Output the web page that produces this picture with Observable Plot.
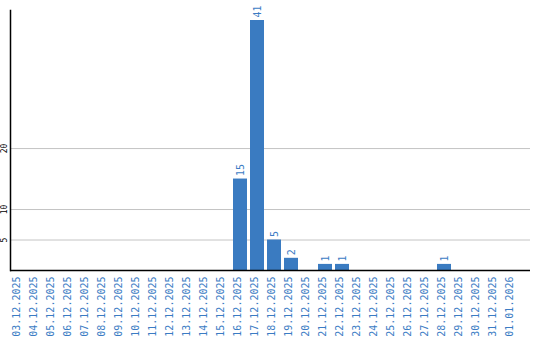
<!DOCTYPE html>
<html><head><meta charset="utf-8">
<script src="https://cdn.jsdelivr.net/npm/d3@7"></script>
<script src="https://cdn.jsdelivr.net/npm/@observablehq/plot@0.6"></script>
<style>body{margin:0;background:#fff}</style>
</head><body><div id="chart"></div>
<script>
const dates = ["03.12.2025","04.12.2025","05.12.2025","06.12.2025","07.12.2025","08.12.2025","09.12.2025","10.12.2025","11.12.2025","12.12.2025","13.12.2025","14.12.2025","15.12.2025","16.12.2025","17.12.2025","18.12.2025","19.12.2025","20.12.2025","21.12.2025","22.12.2025","23.12.2025","24.12.2025","25.12.2025","26.12.2025","27.12.2025","28.12.2025","29.12.2025","30.12.2025","31.12.2025","01.01.2026"];
const counts = [0,0,0,0,0,0,0,0,0,0,0,0,0,15,41,5,2,0,1,1,0,0,0,0,0,1,0,0,0,0];
const yTicks = [5,10,20];
const data = dates.map((d,i)=>({date:d, count:counts[i]}));
const nonZero = data.filter(d=>d.count>0);
const barColor = "#3a7bc1";
const textColor = "#3b7cc4";
const chart = Plot.plot({
  width:540, height:340,
  marginLeft:10, marginRight:10, marginTop:10, marginBottom:70,
  style:{fontFamily:"DejaVu Sans Mono", fontSize:"10px", background:"#fff", overflow:"visible"},
  x:{domain:dates, range:[10,520], paddingInner:0.18, paddingOuter:0.09, axis:null},
  y:{domain:[0,41], range:[270,20], axis:null},
  marks:[
    Plot.gridY(yTicks, {stroke:"#c4c4c4", strokeOpacity:1}),
    Plot.barY(nonZero, {x:"date", y:"count", fill:barColor}),
    Plot.text(nonZero, {x:"date", y:"count", text:d=>String(d.count), rotate:-90, textAnchor:"start", dy:-3, fill:textColor}),
    Plot.text(dates, {x:d=>d, frameAnchor:"bottom", rotate:-90, textAnchor:"end", dy:6, fill:textColor}),
    Plot.text(yTicks, {y:d=>d, text:d=>String(d), frameAnchor:"left", rotate:-90, textAnchor:"middle", dx:-6, fill:"black", fontSize:8}),
    Plot.frame({anchor:"left", stroke:"black", strokeWidth:1.5}),
    Plot.ruleY([0], {stroke:"black", strokeWidth:1.5})
  ]
});
document.getElementById("chart").appendChild(chart);
</script>
</body></html>
